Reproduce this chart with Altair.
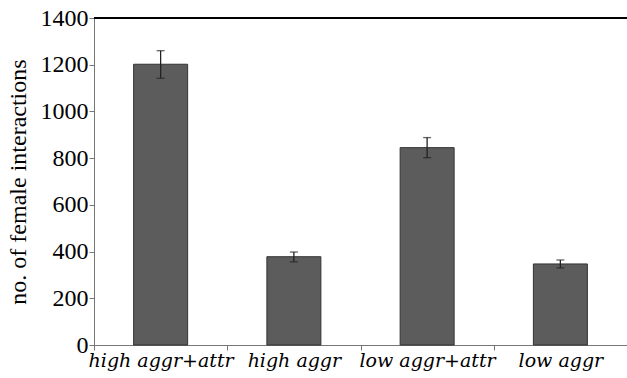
import altair as alt
import pandas as pd

categories = ["high aggr+attr", "high aggr", "low aggr+attr", "low aggr"]
means = [1202, 378, 845, 347]
err_low = [1142, 356, 802, 330]
err_high = [1260, 398, 888, 364]

df = pd.DataFrame({"cat": categories, "mean": means, "lo": err_low, "hi": err_high})

W, H = 533, 327
FONT = "Liberation Serif"
XFONT = "DejaVu Serif"
YTITLE = "no. of female interactions"

x_axis = alt.Axis(tickBand="extent", labelAngle=0, labelFont=XFONT, labelFontSize=19,
                  labelFontStyle="italic", labelColor="black", domainColor="#777777",
                  tickColor="#777777", tickSize=5, labelPadding=1, title=None)
y_axis = alt.Axis(values=[0, 200, 400, 600, 800, 1000, 1200, 1400], grid=False,
                  format="d", title=YTITLE,
                  labelFont=FONT, labelFontSize=24, labelColor="black",
                  titleFont=FONT, titleFontSize=24, titleFontWeight="normal",
                  titleColor="black", domainColor="#777777", tickColor="#777777",
                  tickSize=5, labelPadding=1, titlePadding=10)
x_scale = alt.Scale(paddingInner=0, paddingOuter=0)
y_scale = alt.Scale(domain=[0, 1400], nice=False)

bars = alt.Chart(df).mark_bar(size=54, color="#5c5c5c", stroke="#333333", strokeWidth=1).encode(
    x=alt.X("cat:N", sort=categories, scale=x_scale, axis=x_axis),
    y=alt.Y("mean:Q", scale=y_scale, axis=y_axis),
)

errs = alt.Chart(df).mark_errorbar(ticks=alt.MarkConfig(size=8), color="#222222", thickness=1.3).encode(
    x=alt.X("cat:N", sort=categories, scale=x_scale, axis=x_axis),
    y=alt.Y("lo:Q", scale=y_scale, axis=y_axis),
    y2="hi:Q",
)

top = alt.Chart(df).mark_rule(color="black", strokeWidth=1.5).encode(
    x=alt.value(0), x2=alt.value(W), y=alt.value(0)
)

chart = alt.layer(bars, errs, top).properties(
    width=W, height=H,
    autosize=alt.AutoSizeParams(type="none"),
    padding={"left": 94, "top": 18, "right": 0, "bottom": 33},
).configure_view(stroke=None).configure(background="white", font=FONT)

chart.save("out.html", embed_options={"renderer": "svg", "actions": False})
